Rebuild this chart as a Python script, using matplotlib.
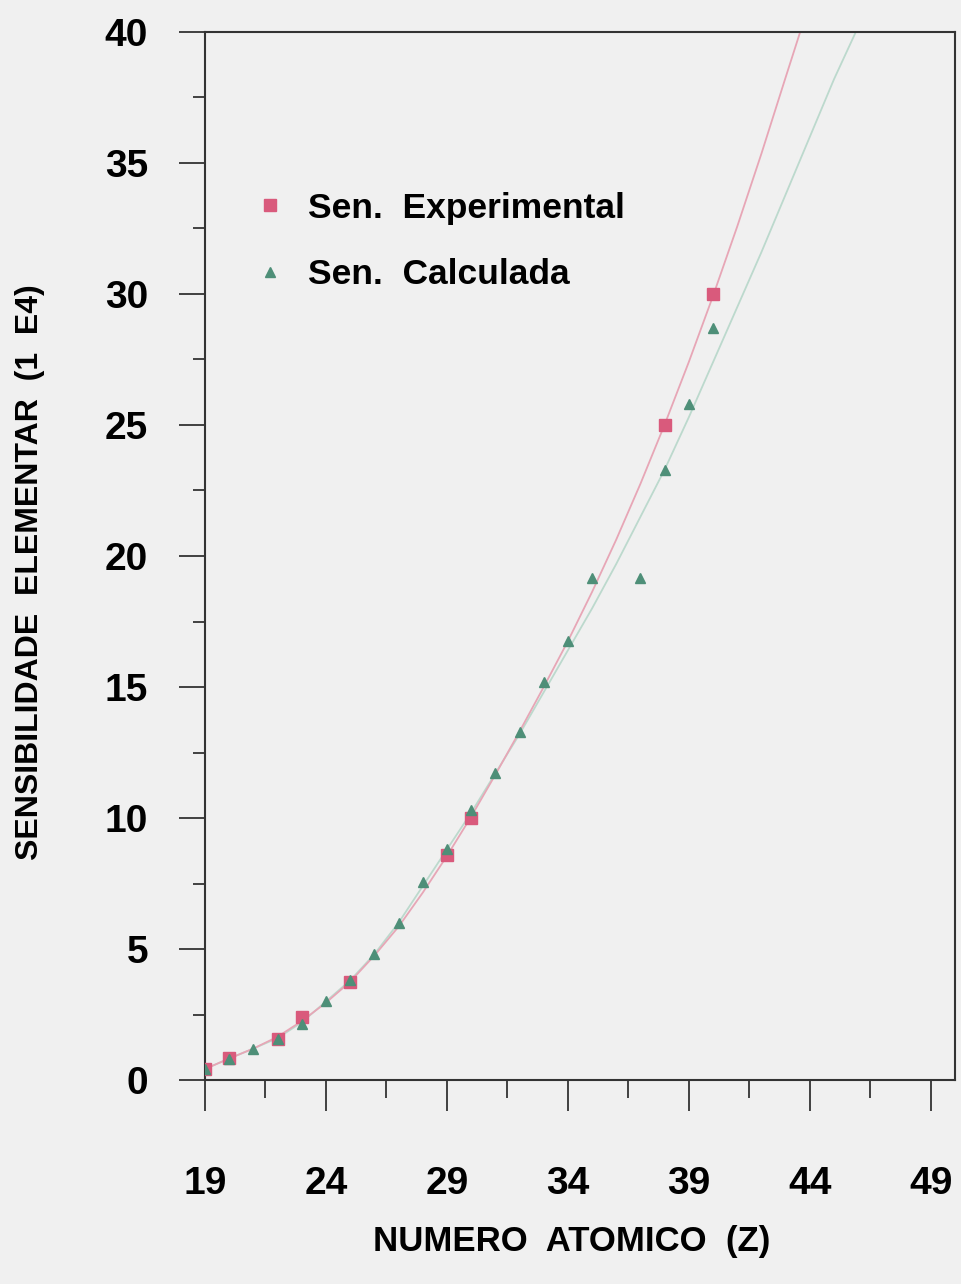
import matplotlib.pyplot as plt
from matplotlib.ticker import MultipleLocator

# Experimental sensitivity (pink squares)
z_exp = [19, 20, 22, 23, 25, 29, 30, 38, 40]
s_exp = [0.42, 0.84, 1.56, 2.4, 3.74, 8.6, 10.0, 25.0, 30.0]

# Calculated sensitivity (green triangles)
z_calc = [19, 20, 21, 22, 23, 24, 25, 26, 27, 28, 29, 30, 31, 32, 33, 34, 35, 37, 38, 39, 40]
s_calc = [0.42, 0.8, 1.2, 1.55, 2.15, 3.0, 3.8, 4.8, 6.0, 7.55, 8.8, 10.3, 11.7, 13.3,
          15.2, 16.75, 19.15, 19.15, 23.3, 25.8, 28.7]

# fitted curves
z_fit_exp = [19, 20, 21, 22, 23, 24, 25, 26, 27, 28, 29, 30, 31, 32, 33, 34, 35, 36, 37,
             38, 39, 40, 41, 42, 43, 43.6]
s_fit_exp = [0.42, 0.82, 1.2, 1.65, 2.25, 2.95, 3.75, 4.75, 5.85, 7.15, 8.55, 10.05, 11.65,
             13.3, 15.0, 16.75, 18.63, 20.63, 22.76, 25.02, 27.41, 29.93, 32.58, 35.36,
             38.27, 40.0]
z_fit_calc = [19, 20, 21, 22, 23, 24, 25, 26, 27, 28, 29, 30, 31, 32, 33, 34, 35, 36, 37,
              38, 39, 40, 41, 42, 43, 44, 45, 45.9]
s_fit_calc = [0.42, 0.82, 1.2, 1.6, 2.2, 3.0, 3.8, 4.8, 6.0, 7.4, 8.8, 10.2, 11.7, 13.2,
              14.8, 16.4, 18.0, 19.7, 21.5, 23.3, 25.3, 27.4, 29.5, 31.6, 33.8, 36.0, 38.2, 40.0]

x_ticks = [19, 24, 29, 34, 39, 44, 49]
y_ticks = [0, 5, 10, 15, 20, 25, 30, 35, 40]

BG = "#f0f0f0"
PINK = "#d95a7c"
GREEN = "#4e8f78"
FONT = ["Liberation Sans", "DejaVu Sans"]

fig = plt.figure(figsize=(9.61, 12.84), dpi=100, facecolor=BG)
ax = fig.add_axes([205 / 961, 1 - 1080 / 1284, 750 / 961, 1048 / 1284], facecolor=BG)

ax.plot(z_fit_calc, s_fit_calc, color="#bcd9cd", lw=1.3, zorder=2)
ax.plot(z_fit_exp, s_fit_exp, color="#e7a6b6", lw=1.3, zorder=2)
ax.plot(z_exp, s_exp, ls="none", marker="s", ms=8, color=PINK, zorder=3,
        label="Sen.  Experimental")
ax.plot(z_calc, s_calc, ls="none", marker="^", ms=7, color=GREEN, zorder=4,
        label="Sen.  Calculada")

ax.set_xlim(19, 50)
ax.set_ylim(0, 40)
ax.set_xticks(x_ticks)
ax.set_yticks(y_ticks)
ax.xaxis.set_minor_locator(MultipleLocator(2.5, offset=1.5))
ax.yaxis.set_minor_locator(MultipleLocator(2.5))

for s in ax.spines.values():
    s.set_linewidth(1.5)
    s.set_color("#333333")

ax.tick_params(axis="x", which="major", direction="out", length=22, width=1.3,
               pad=40, color="#333333")
ax.tick_params(axis="x", which="minor", direction="out", length=13, width=1.3,
               color="#333333")
ax.tick_params(axis="y", which="major", direction="out", length=19, width=1.3,
               pad=22, color="#333333")
ax.tick_params(axis="y", which="minor", direction="out", length=9, width=1.3,
               color="#333333")

for lab in ax.get_xticklabels() + ax.get_yticklabels():
    lab.set_family(FONT)
    lab.set_fontweight("bold")
    lab.set_fontsize(28)

fig.text(572 / 961, 1 - 1241 / 1284, "NUMERO  ATOMICO  (Z)", ha="center", va="center",
         fontsize=25, family=FONT, fontweight="bold")
fig.text(30 / 961, 1 - 572 / 1284, "SENSIBILIDADE  ELEMENTAR  (1  E4)", ha="center",
         va="center", rotation=90, fontsize=23, family=FONT, fontweight="bold")

leg = ax.legend(loc="upper left", bbox_to_anchor=(0.021, 0.878), frameon=False,
                handlelength=1.0, handletextpad=0.55, labelspacing=0.95,
                prop={"family": FONT, "weight": "bold", "size": 25.5})

fig.savefig("out.png", dpi=100, facecolor=BG)
